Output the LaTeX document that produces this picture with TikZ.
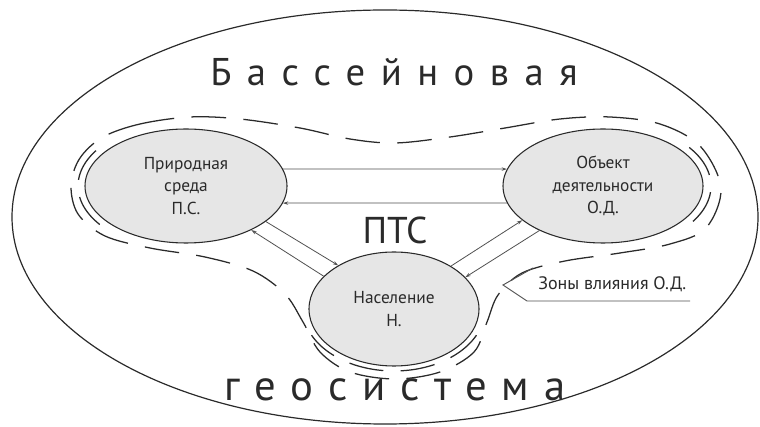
\documentclass[tikz,border=0pt]{standalone}
\usepackage{fontspec}
\setmainfont{PT Sans}
\newfontfamily\widefont[LetterSpace=40]{PT Sans}
\newfontfamily\geofont[LetterSpace=35]{PT Sans}
\usetikzlibrary{shapes.geometric,arrows.meta}

\definecolor{ink}{HTML}{2A2A2A}
\definecolor{wire}{HTML}{505050}
\definecolor{blob}{HTML}{E6E6E6}

\tikzset{
  unit/.style={ellipse, draw=ink, line width=0.8pt, fill=blob, inner sep=0pt,
    minimum height=85.5pt, font=\fontsize{13}{17}\selectfont, align=center, text=ink},
  link/.style={draw=wire, line width=0.6pt, -{Stealth[length=4pt,width=2.6pt]}},
  zone/.style={draw=ink, line width=0.95pt, dash pattern=on 26pt off 13pt},
  title/.style={text=ink, inner sep=0pt},
  note/.style={text=ink, inner sep=0pt, font=\fontsize{13.5}{16}\selectfont}
}

\begin{document}
\begin{tikzpicture}[x=0.75pt,y=-0.75pt]
\useasboundingbox (0,0) rectangle (760,427);

% basin boundary
\draw[ink, line width=0.9pt] (385,217) ellipse [x radius=279.75pt, y radius=155.25pt];

% headings
\node[title, anchor=base west, font=\widefont\fontsize{29}{30}\selectfont] (basin) at (210,86) {Бассейновая};
\node[title, anchor=base west, font=\geofont\fontsize{32}{34}\selectfont] (geo) at (224,401) {геосистема};
\node[title, anchor=base, font=\fontsize{28}{30}\selectfont] (pts) at (395,244) {ПТС};

% zone of influence (outer dashed contour)
\draw[zone] plot[smooth cycle, tension=0.55] coordinates {
  (103,137) (140,124) (190,117) (240,119) (300,128) (350,139) (395,143)
  (450,137) (505,128) (560,119) (610,117) (660,124) (700,146) (721,188)
  (706,228) (670,244) (620,253) (565,261) (522,273) (498,295) (487,322)
  (474,352) (440,372) (395,379) (350,372) (320,352) (303,322) (285,294)
  (253,271) (205,257) (150,248) (105,236) (78,214) (71,185) (80,158)};

% inner dashed arcs next to each unit
\draw[zone] plot[smooth, domain=143:217, samples=30] ({186+108*cos(\x)},{186+64*sin(\x)});
\draw[zone] plot[smooth, domain=-37:37, samples=30] ({603+108*cos(\x)},{186+64*sin(\x)});
\draw[zone] plot[smooth, domain=25:155, samples=40] ({394+91*cos(\x)},{309+62*sin(\x)});

% units of the system
\node[unit, minimum width=151.5pt] (ps) at (186,186) {Природная\\среда\\П.С.};
\node[unit, minimum width=150pt] (od) at (603,186) {Объект\\деятельности\\О.Д.};
\node[unit, minimum width=127.5pt] (pop) at (394,309) {Население\\Н.};

% links between units
\draw[link] (ps.10) -- (od.170);
\draw[link] (od.190) -- (ps.350);
\draw[link] (ps.-24) -- (pop.142);
\draw[link] (pop.155) -- (ps.-34);
\draw[link] (pop.37) -- (od.203);
\draw[link] (od.215) -- (pop.24);

% callout for the zones
\node[note, anchor=base west] (zlabel) at (538,290) {Зоны влияния О.Д.};
\coordinate (zend) at (690,301);
\coordinate (zbase) at (527,301);
\coordinate (ztip) at (503,285);
\coordinate (zup) at (533,268);
\draw[wire, line width=0.7pt] (zend) -- (zbase) -- (ztip) -- (zup);
\end{tikzpicture}
\end{document}
